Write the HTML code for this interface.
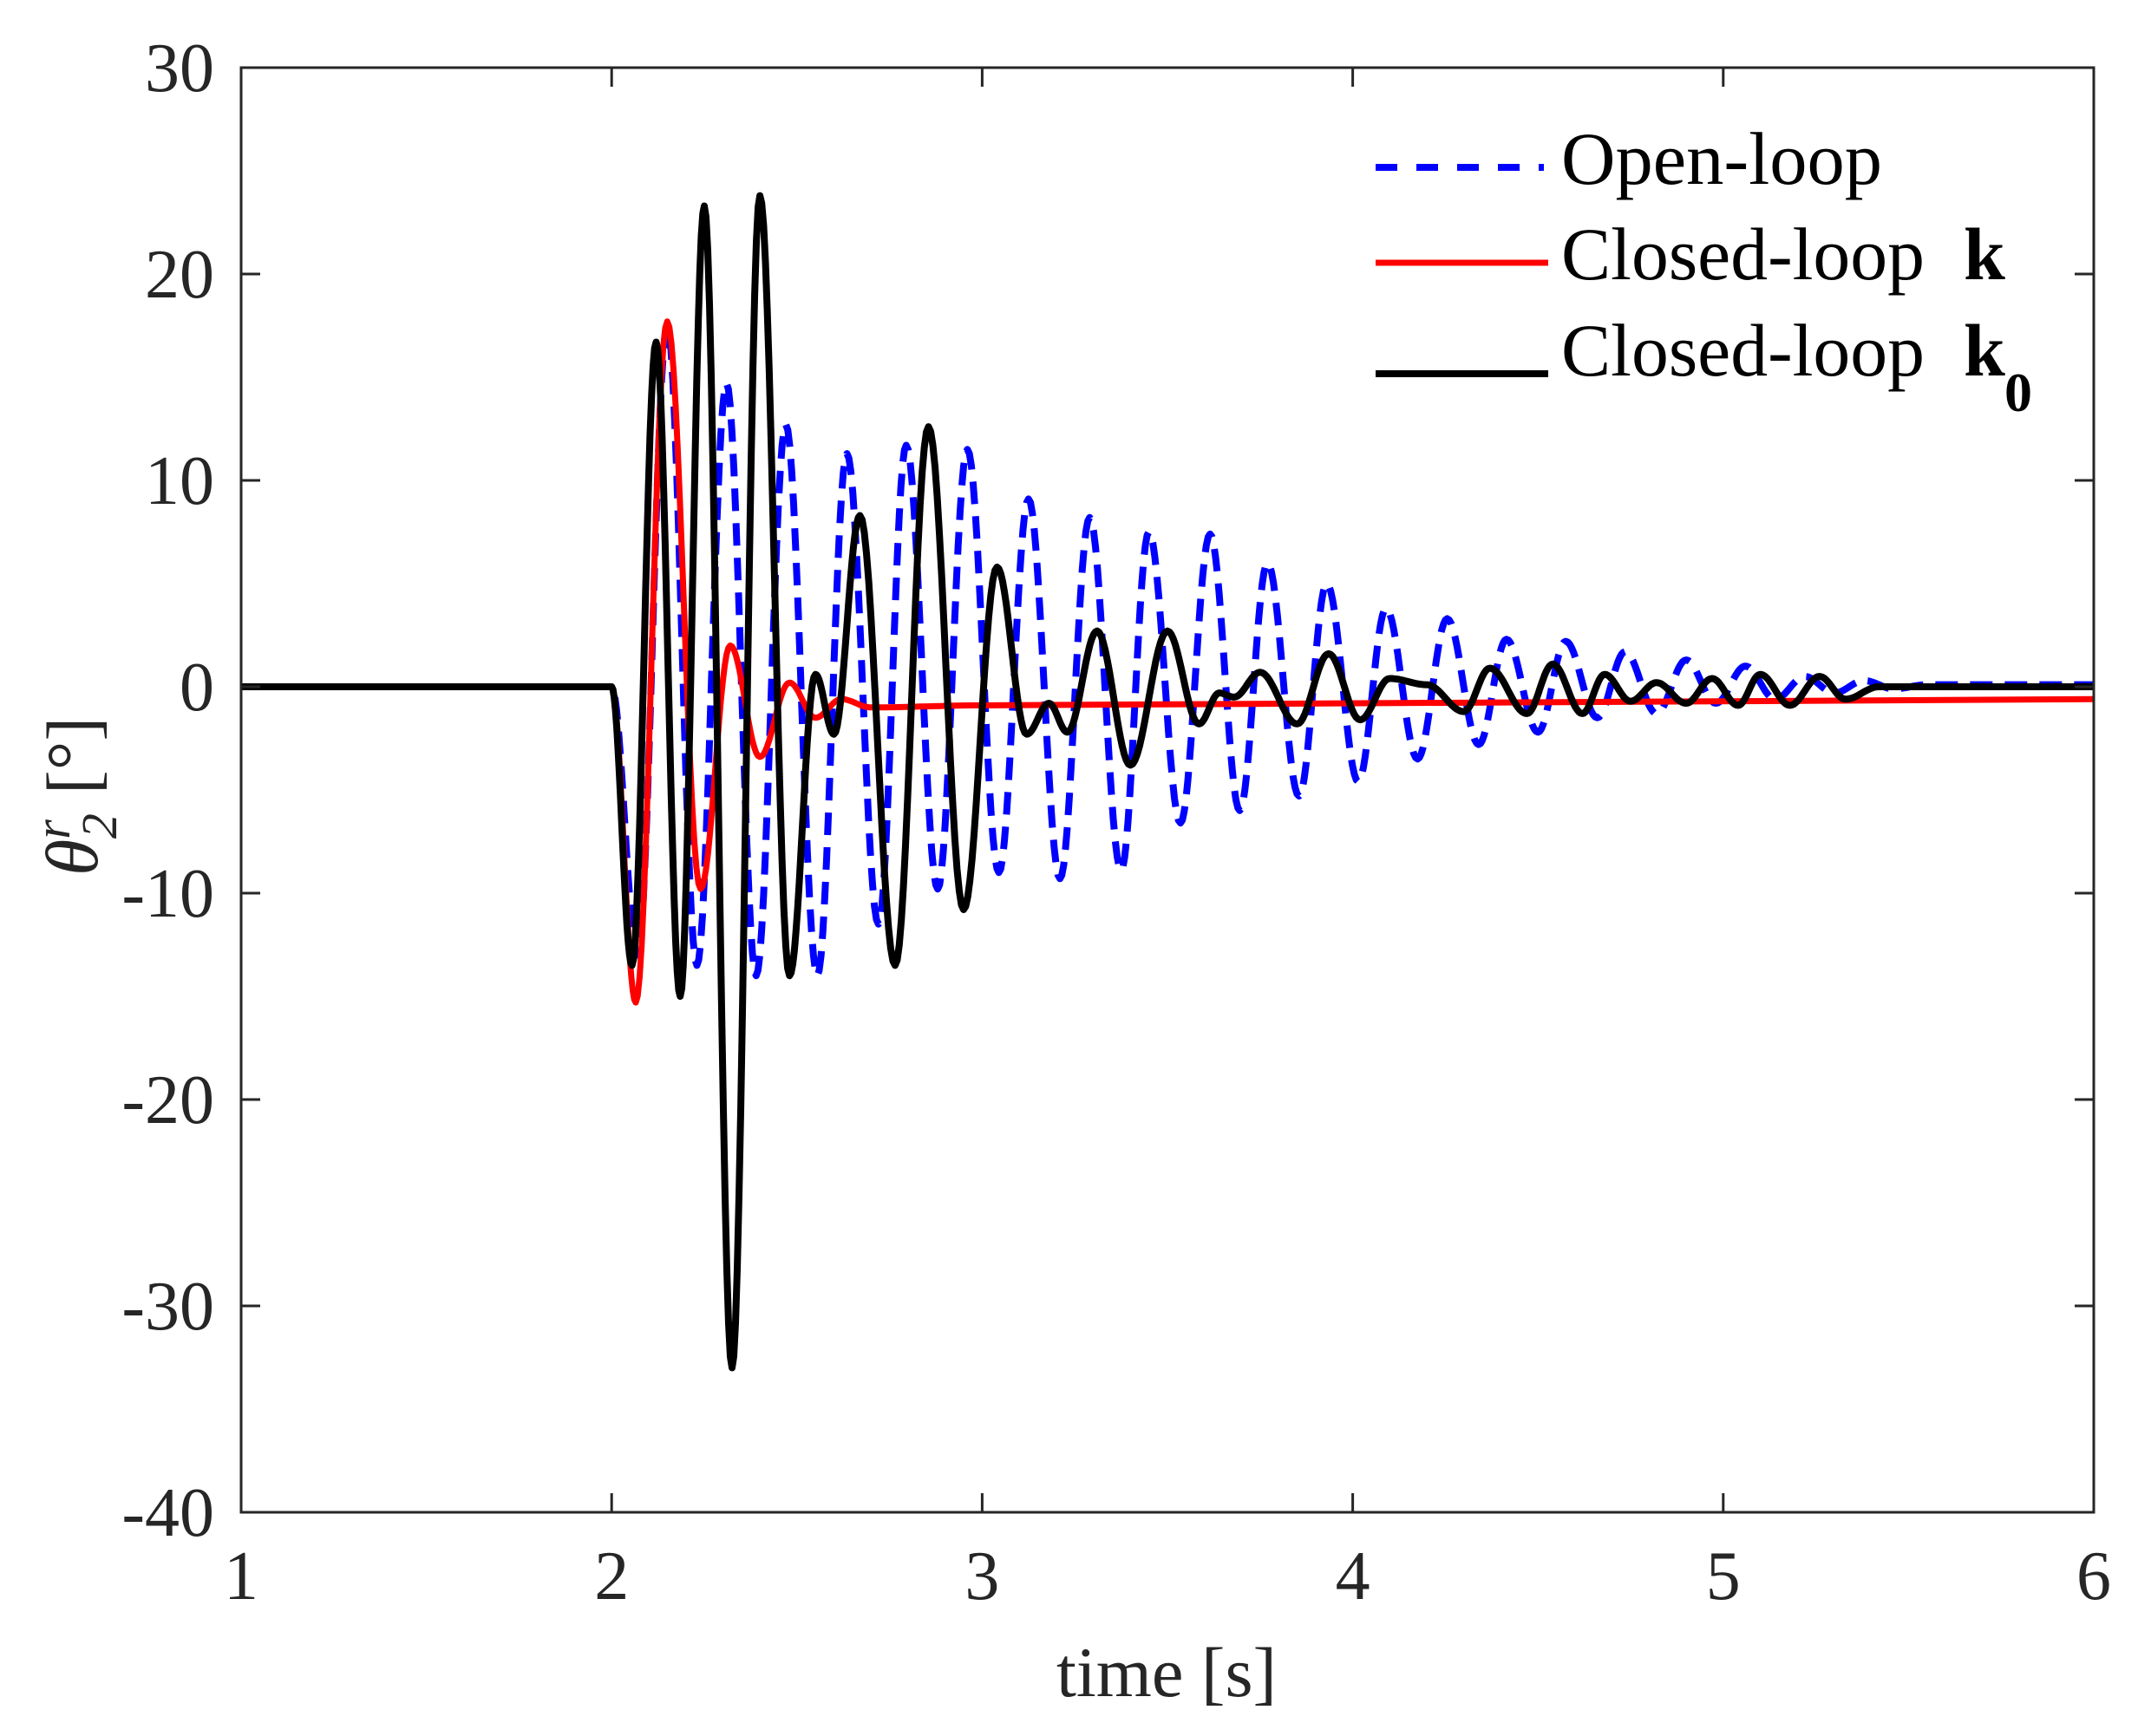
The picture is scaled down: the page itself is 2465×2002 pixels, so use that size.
<!DOCTYPE html>
<html><head><meta charset="utf-8"><style>
html,body{margin:0;padding:0;background:#fff}
svg{display:block}
text{font-family:"Liberation Serif",serif;fill:#262626}
</style></head><body>
<svg id="s" width="2465" height="2002" viewBox="0 0 2465 2002" xmlns="http://www.w3.org/2000/svg">
<rect width="2465" height="2002" fill="#fff"/>
<g id="series" fill="none" stroke-linejoin="round"></g>
<g stroke="#262626" stroke-width="3" fill="none">
<rect x="278" y="78" width="2136" height="1666"/>
<path id="ticks" d=""/>
</g>
<g font-size="80" id="lbl"></g>
<text x="1218" y="1956" font-size="82" textLength="254" lengthAdjust="spacingAndGlyphs">time [s]</text>
<g transform="translate(112,1010) rotate(-90)">
<text x="0" y="0" font-size="86" font-style="italic">θ<tspan font-size="58" dy="-32">r</tspan><tspan font-size="58" dx="-22" dy="54">2</tspan><tspan dy="-22" font-size="84" dx="22" font-style="normal">[°]</tspan></text>
</g>
<g>
<line x1="1586" y1="193" x2="1780" y2="193" stroke="#0000ff" stroke-width="8" stroke-dasharray="25 22"/>
<line x1="1586" y1="303" x2="1785" y2="303" stroke="#ff0000" stroke-width="7"/>
<line x1="1586" y1="431" x2="1785" y2="431" stroke="#000" stroke-width="8"/>
<text x="1800" y="212" font-size="86" textLength="370" lengthAdjust="spacingAndGlyphs" style="fill:#000">Open-loop</text>
<text x="1800" y="322" font-size="86" textLength="419" lengthAdjust="spacingAndGlyphs" style="fill:#000">Closed-loop</text>
<text x="2264" y="322" font-size="86" font-weight="bold" style="fill:#000">k</text>
<text x="1800" y="433" font-size="86" textLength="419" lengthAdjust="spacingAndGlyphs" style="fill:#000">Closed-loop</text>
<text x="2264" y="433" font-size="86" font-weight="bold" style="fill:#000">k</text>
<text x="2311" y="474" font-size="64" font-weight="bold" style="fill:#000">0</text>
</g>
</svg>
<script>
var X=function(t){return 278+(t-1)*427.2},Y=function(v){return 792-v*23.8};
function path(ext){var d='M'+X(ext[0][0]).toFixed(1)+' '+Y(ext[0][1]).toFixed(1);
for(var i=1;i<ext.length;i++){var a=ext[i-1],b=ext[i];var n=(b[0]-a[0]>0.3)?2:16;
for(var j=1;j<=n;j++){var f=j/n;var g=(0.5-0.5*Math.cos(Math.PI*f));var t=a[0]+(b[0]-a[0])*f;var v=a[1]+(b[1]-a[1])*g;d+=' L'+X(t).toFixed(1)+' '+Y(v).toFixed(1);}}
return d;}
var blue=[[1,0],[2,0],[2.07,-13],[2.15,17.5],[2.23,-13.5],[2.31,14.7],[2.39,-14],[2.47,12.7],[2.555,-14],[2.635,11.3],[2.72,-11.5],[2.795,11.7],[2.88,-9.8],[2.96,11.5],[3.045,-9],[3.125,9.1],[3.21,-9.3],[3.29,8.2],[3.375,-8.9],[3.45,7.5],[3.535,-6.6],[3.615,7.4],[3.695,-6],[3.77,6],[3.855,-5.3],[3.93,5],[4.015,-4.6],[4.09,3.8],[4.175,-3.5],[4.255,3.3],[4.34,-2.8],[4.415,2.3],[4.5,-2.2],[4.575,2.2],[4.66,-1.5],[4.735,1.7],[4.82,-1.3],[4.9,1.3],[4.98,-0.8],[5.06,1],[5.14,-0.6],[5.22,0.5],[5.3,-0.3],[5.38,0.3],[5.46,-0.1],[5.55,0.1],[6,0.1]];
var red=[[1,0],[2,0],[2.065,-15.3],[2.15,17.7],[2.24,-9.8],[2.32,2],[2.40,-3.4],[2.48,0.2],[2.55,-1.5],[2.62,-0.6],[2.7,-1.0],[3.0,-0.9],[6,-0.6]];
var blk=[[1,0],[2,0],[2.055,-13.5],[2.12,16.7],[2.185,-15],[2.25,23.3],[2.325,-33],[2.40,23.8],[2.48,-14],[2.55,0.6],[2.60,-2.3],[2.67,8.3],[2.765,-13.5],[2.855,12.6],[2.95,-10.8],[3.04,5.8],[3.12,-2.3],[3.18,-0.8],[3.23,-2.2],[3.31,2.7],[3.40,-3.8],[3.50,2.7],[3.585,-1.8],[3.64,-0.3],[3.68,-0.5],[3.75,0.7],[3.85,-1.8],[3.935,1.6],[4.02,-1.6],[4.1,0.4],[4.2,0.1],[4.3,-1.2],[4.37,0.9],[4.47,-1.3],[4.54,1.1],[4.62,-1.3],[4.68,0.6],[4.75,-0.7],[4.82,0.2],[4.9,-0.8],[4.97,0.4],[5.04,-0.9],[5.1,0.6],[5.18,-0.9],[5.26,0.5],[5.33,-0.6],[5.42,0],[6,0]];
var NS='http://www.w3.org/2000/svg',g=document.getElementById('series');
function add(d,c,w,da){var p=document.createElementNS(NS,'path');p.setAttribute('d',d);p.setAttribute('stroke',c);p.setAttribute('stroke-width',w);if(da)p.setAttribute('stroke-dasharray',da);g.appendChild(p);}
add(path(blue),'#0000ff',8,'26 14');add(path(red),'#ff0000',7);add(path(blk),'#000',8);
var td='',L=document.getElementById('lbl'),h='';
for(var t=1;t<=6;t++){var x=X(t);td+='M'+x+' 1744 V1722 M'+x+' 78 V100 ';h+='<text x="'+x+'" y="1844" text-anchor="middle">'+t+'</text>';}
for(var v=-40;v<=30;v+=10){var y=Y(v);td+='M278 '+y+' H300 M2414 '+y+' H2392 ';h+='<text x="247" y="'+(y+27)+'" text-anchor="end">'+v+'</text>';}
document.getElementById('ticks').setAttribute('d',td);L.innerHTML=h;
</script>
</body></html>
